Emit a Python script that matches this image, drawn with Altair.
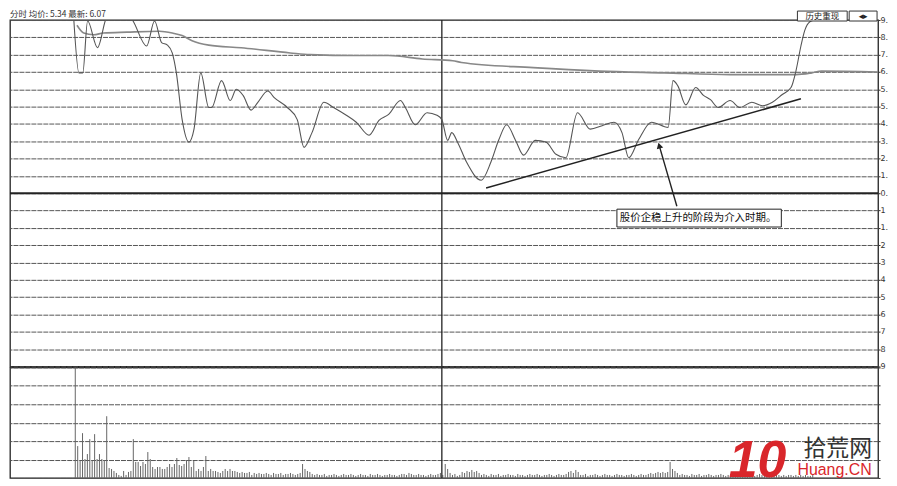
import altair as alt
import pandas as pd

# ---------------- data ----------------
# time index (one unit per volume bar) and price in grid units (0 = previous close)
price_t = [26.4, 28.5, 30.1, 32.1, 36.2, 39.5, 44.7, 50.9, 56.5, 59.8, 62.7, 65.1, 67.1, 68.8, 71.2,
           74.0, 76.1, 78.9, 82.2, 83.4, 87.5, 91.1, 93.6, 96.4, 99.7, 102.5, 106.6, 109.4, 114.7,
           118.8, 121.6, 124.9, 129.8, 133.8, 139.1, 143.2, 148.5, 152.6, 156.6, 161.5, 163.5, 167.6,
           172.5, 176.6, 178.6, 181.0, 182.7, 185.1, 188.8, 194.9, 198.9, 202.2, 205.4, 209.1, 212.4,
           217.2, 221.7, 225.8, 229.9, 234.7, 240.0, 244.9, 249.8, 253.1, 255.9, 260.0, 265.3, 272.2,
           274.2, 276.2, 279.5, 283.6, 286.8, 289.7, 292.9, 297.8, 301.9, 306.8, 311.2, 315.3, 319.4,
           323.0, 325.1, 327.1, 328.7, 330.8, 332.8]
price_u = [10.0, 6.95, 6.95, 9.94, 8.4, 10.0, 11.0, 9.94, 8.5, 9.94, 8.7, 8.55, 8.1, 6.95, 4.25,
           2.95, 3.7, 6.95, 4.95, 4.95, 6.5, 5.35, 6.0, 5.65, 4.8, 5.25, 5.9, 5.5, 4.95,
           4.25, 2.65, 3.5, 5.25, 4.95, 4.5, 4.1, 3.35, 4.2, 4.55, 5.35, 4.95, 3.95,
           4.65, 4.5, 4.25, 3.05, 3.5, 2.95, 1.8, 0.75, 1.8, 3.1, 3.95, 3.05, 2.2,
           3.05, 2.95, 2.25, 2.05, 4.65, 3.7, 3.9, 4.1, 3.5, 2.05, 3.1, 4.1, 3.8,
           6.5, 6.2, 5.1, 6.1, 5.65, 5.4, 4.95, 5.35, 4.95, 5.25, 5.05, 5.25, 5.7,
           6.1, 7.1, 8.5, 9.4, 9.9, 10.0]

avg_t = [27.7, 30.5, 34.6, 38.6, 48.4, 61.8, 67.1, 71.2, 75.3, 82.2, 95.6, 115.9, 124.1, 143.2,
         156.6, 170.5, 183.1, 186.7, 216.4, 243.7, 270.5, 297.8, 325.1, 331.6, 335.6, 359.0]
avg_u = [9.7, 9.25, 9.15, 9.25, 9.3, 9.35, 9.25, 9.1, 8.8, 8.55, 8.4, 8.1, 8.0, 7.95,
         7.95, 7.75, 7.65, 7.55, 7.25, 7.05, 6.95, 6.85, 6.85, 6.95, 7.05, 7.0]

trend_t = [196.9, 327.1]
trend_u = [0.3, 5.45]

arrow_t = [275.8, 268.5]
arrow_u = [-0.75, 2.75]

note_text = "股价企稳上升的阶段为介入时期。"
note_t = [251.0, 319.0]
note_u = [-0.92, -1.95]

midday_t = 178.6

vol_start = 27
volume = [
    111, 32, 17, 45, 19, 24, 39, 17, 44, 19, 24, 19, 18, 62,
    10, 9, 7, 5, 3, 2, 7, 3, 6, 7, 39, 16, 16, 12, 16, 14, 26, 19, 11, 9,
    11, 11, 9, 9, 11, 14, 11, 14, 20, 13, 12, 14, 18, 21, 11, 17, 7, 9, 7, 11,
    22, 7, 9, 7, 7, 6, 5, 7, 9, 7, 9, 7, 7, 6, 5, 6, 5, 5, 6, 3,
    5, 4, 5, 4, 4, 5, 4, 3, 5, 4, 4, 5, 3, 4, 4, 5, 4, 3, 4, 5,
    14, 9, 7, 6,
    4, 3, 4, 3, 3, 4, 2, 3, 3, 4, 3, 2, 3, 4, 3, 3, 4, 3, 2, 3, 4, 3, 3, 2, 4, 3, 3,
    4, 3, 2, 3, 3, 4, 3, 3, 2, 3, 4, 4, 3, 5, 4, 3, 3, 4, 3, 3, 2, 3, 4, 3, 3, 4, 5,
    3, 14, 9, 5, 3, 4, 2, 3, 6, 5, 7, 6, 8, 6, 7, 5,
    3, 4, 3, 2, 4, 3, 3, 4, 2, 3, 3, 4, 3, 3, 2, 4, 3, 3, 2, 3, 4, 3, 3, 4, 3, 2, 3, 3,
    4, 3, 2, 3, 4, 3, 3, 4,
    6, 7, 5, 8, 6,
    3, 3, 4, 2, 3, 3, 4, 3, 2, 3, 4, 3, 3, 2, 3, 4, 3, 3, 2, 3, 3, 4, 3, 2, 3, 4, 3, 3,
    4, 5, 4, 5, 6, 5, 6, 5, 6,
    16, 9, 7, 5,
    3, 4, 3, 3, 2, 4, 3, 3, 4, 2, 3, 3, 4, 3, 2, 3, 3, 4, 3, 2, 3, 4, 3, 3, 2, 3, 3, 4,
    2, 3, 3, 2, 3, 4, 3, 2, 3, 3, 2, 3, 4, 3, 2, 3, 2, 3, 3, 2, 3, 2, 3, 2, 3, 2, 2, 3,
]

price_ticks = list(range(10, -11, -1))
price_tick_labels = ["9.", "8.", "7.", "6.", "5.", "5.", "4.", "3.", "2.", "1.", "0.",
                     "1", "1.", "2", "3", "4", "5", "6", "7", "8", "9"]
vol_ticks = [0, 18.5, 37, 55.5, 74, 92.5, 111]

header_text = "分时  均价: 5.34  最新: 6.07"
button_text = "历史重现"
button2_text = "◂▸"
wm_num = "10"
wm_cn = "拾荒网"
wm_en = "Huang.CN"

# ---------------- frames ----------------
price_df = pd.DataFrame({"t": price_t, "u": price_u})
avg_df = pd.DataFrame({"t": avg_t, "u": avg_u})
trend_df = pd.DataFrame({"t": trend_t, "u": trend_u})
arrow_df = pd.DataFrame({"t": arrow_t, "u": arrow_u})
arrow_head_df = arrow_df.iloc[[1]]
note_df = pd.DataFrame({"t0": [note_t[0]], "t1": [note_t[1]], "u0": [note_u[0]], "u1": [note_u[1]],
                        "tm": [note_t[0] + 1.2], "um": [(note_u[0] + note_u[1]) / 2], "s": [note_text]})
zero_df = pd.DataFrame({"u": [0]})
mid_df = pd.DataFrame({"t": [midday_t]})
vol_df = pd.DataFrame({"t": list(range(vol_start, vol_start + len(volume))), "v": volume})
one = pd.DataFrame({"a": [0]})

W = 872
XS = alt.Scale(domain=[0, 359], nice=False, zero=False)
YP = alt.Scale(domain=[-10, 10], nice=False, zero=False)
YV = alt.Scale(domain=[0, 111], nice=False, zero=False)

lab_arr = "[" + ",".join("'" + s + "'" for s in price_tick_labels) + "]"
price_axis = alt.Axis(orient="right", values=price_ticks, grid=True, gridColor="#555",
                      gridDash=[5, 1], gridWidth=1, tickSize=2, tickColor="#333",
                      labelPadding=0, labelFontSize=8, labelColor="#333", labelFont="DejaVu Sans",
                      labelOverlap=False, labelBound=False,
                      labelExpr=lab_arr + "[10 - datum.value]", domain=False, title=None)
vol_axis = alt.Axis(orient="right", values=vol_ticks, grid=True, gridColor="#555", gridDash=[5, 1],
                    gridWidth=1, tickSize=2, tickColor="#333", labels=False, domain=False, title=None)

xenc = alt.X("t:Q", scale=XS, axis=None)


def yp(field):
    return alt.Y(field, type="quantitative", scale=YP, axis=price_axis)


grid_layer = alt.Chart(zero_df).mark_rule(color="#222", strokeWidth=2).encode(y=yp("u"))
mid_layer = alt.Chart(mid_df).mark_rule(color="#222", strokeWidth=1.3).encode(x=xenc)
avg_layer = alt.Chart(avg_df).mark_line(color="#888", strokeWidth=1.6, interpolate="monotone").encode(
    x=xenc, y=yp("u"))
price_layer = alt.Chart(price_df).mark_line(color="#555", strokeWidth=1.1, interpolate="monotone",
                                            clip=True).encode(x=xenc, y=yp("u"))
trend_layer = alt.Chart(trend_df).mark_line(color="#222", strokeWidth=1.5).encode(x=xenc, y=yp("u"))
arrow_layer = alt.Chart(arrow_df).mark_line(color="#222", strokeWidth=1.4).encode(x=xenc, y=yp("u"))
arrow_head = alt.Chart(arrow_head_df).mark_point(shape="triangle-up", filled=True, size=45,
                                                 angle=344, color="#222", opacity=1).encode(
    x=xenc, y=yp("u"))
note_box = alt.Chart(note_df).mark_rect(fill="white", stroke="#222", strokeWidth=1).encode(
    x=alt.X("t0:Q", scale=XS, axis=None), x2="t1:Q", y=yp("u0"), y2="u1:Q")
note_txt = alt.Chart(note_df).mark_text(align="left", baseline="middle", fontSize=10.5,
                                        font="Noto Sans CJK SC", color="#111").encode(
    x=alt.X("tm:Q", scale=XS, axis=None), y=yp("um"), text="s:N")
header = alt.Chart(one).mark_text(align="left", baseline="bottom", fontSize=8.5,
                                  font="Noto Sans CJK SC", color="#333").encode(
    x=alt.value(0), y=alt.value(-1), text=alt.datum(header_text))
btn1 = alt.Chart(one).mark_rect(fill="white", stroke="#333", strokeWidth=1).encode(
    x=alt.value(791), x2=alt.value(841), y=alt.value(-9), y2=alt.value(1))
btn1t = alt.Chart(one).mark_text(fontSize=8.5, font="Noto Sans CJK SC", color="#222",
                                 baseline="middle").encode(
    x=alt.value(816), y=alt.value(-4), text=alt.datum(button_text))
btn2 = alt.Chart(one).mark_rect(fill="white", stroke="#333", strokeWidth=1).encode(
    x=alt.value(843), x2=alt.value(871), y=alt.value(-9), y2=alt.value(1))
btn2t = alt.Chart(one).mark_text(fontSize=9, font="DejaVu Sans", color="#222",
                                 baseline="middle").encode(
    x=alt.value(857), y=alt.value(-4), text=alt.datum(button2_text))

price_panel = alt.layer(grid_layer, mid_layer, avg_layer, price_layer, trend_layer, arrow_layer,
                        arrow_head, note_box, note_txt, header, btn1, btn1t, btn2, btn2t).properties(
    width=W, height=348)

vol_bars = alt.Chart(vol_df).mark_rule(color="#666", strokeWidth=1).encode(
    x=xenc, y=alt.Y("v:Q", scale=YV, axis=vol_axis), y2=alt.datum(0))
vol_mid = alt.Chart(mid_df).mark_rule(color="#222", strokeWidth=1.3).encode(x=xenc)
wm1 = alt.Chart(one).mark_text(align="left", baseline="alphabetic", fontSize=52, fontWeight="bold",
                               fontStyle="italic", font="Liberation Sans", color="#d9262b",
                               clip=True).encode(
    x=alt.value(722), y=alt.value(110), text=alt.datum(wm_num))
wm2 = alt.Chart(one).mark_text(align="left", baseline="alphabetic", fontSize=23,
                               font="Noto Sans CJK SC", color="#333").encode(
    x=alt.value(797), y=alt.value(89), text=alt.datum(wm_cn))
wm3 = alt.Chart(one).mark_text(align="left", baseline="bottom", fontSize=16,
                               font="Liberation Sans", color="#d9262b").encode(
    x=alt.value(791), y=alt.value(111), text=alt.datum(wm_en))

vol_panel = alt.layer(vol_bars, vol_mid, wm1, wm2, wm3).properties(width=W, height=111)

chart = alt.vconcat(price_panel, vol_panel, spacing=1, bounds="flush").properties(
    padding=0, background="white"
).configure_view(stroke="#222", strokeWidth=1.3)

chart.save("out.html", embed_options={"renderer": "svg", "actions": False})
